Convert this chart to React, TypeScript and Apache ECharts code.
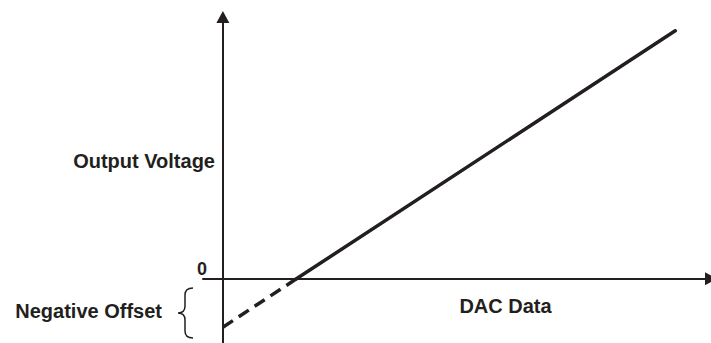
import React, { useEffect, useRef } from "react";
import * as echarts from "echarts";

// Values in chart units (x: DAC data, y: output voltage)
const negativeSegment: [number, number][] = [
  [0, -49],
  [74, 0],
];
const positiveSegment: [number, number][] = [
  [74, 0],
  [455, 251],
];
const xRange = { min: -20, max: 491 };
const yRange = { min: -65, max: 265 };
const yLabel = "Output Voltage";
const xLabel = "DAC Data";
const offsetLabel = "Negative Offset";
const zeroLabel = "0";

const INK = "#231f20";
const FONT = "'Liberation Sans', Arial, Helvetica, sans-serif";

const bracePath =
  "M 193 288 Q 185 288 185 295 L 185 306 Q 185 313 178 313 Q 185 313 185 320 L 185 331 Q 185 338 193 338";

export default function App() {
  const ref = useRef<HTMLDivElement>(null);
  useEffect(() => {
    if (!ref.current) return;
    try {
      echarts.graphic.registerShape("brace", echarts.graphic.extendPath(bracePath, {}));
    } catch (e) {}
    const chart = echarts.init(ref.current, null, { renderer: "svg" });
    const axisLine = (sym: string) => ({
      show: true,
      onZero: true,
      symbol: ["none", sym],
      symbolSize: [13, 12],
      lineStyle: { color: INK, width: 2 },
    });
    const textStyle = (extra: any) => ({
      fill: INK,
      font: `bold 20px ${FONT}`,
      ...extra,
    });
    chart.setOption({
      animation: false,
      backgroundColor: "#ffffff",
      grid: { left: 203, top: 17, width: 511, height: 330, containLabel: false },
      xAxis: {
        type: "value",
        min: xRange.min,
        max: xRange.max,
        axisLine: axisLine("triangle"),
        axisTick: { show: false },
        axisLabel: { show: false },
        splitLine: { show: false },
      },
      yAxis: {
        type: "value",
        min: yRange.min,
        max: yRange.max,
        axisLine: axisLine("triangle"),
        axisTick: { show: false },
        axisLabel: { show: false },
        splitLine: { show: false },
      },
      series: [
        {
          type: "line",
          data: negativeSegment,
          showSymbol: false,
          symbol: "none",
          lineStyle: { color: INK, width: 3.5, type: [12, 7] },
          silent: true,
        },
        {
          type: "line",
          data: positiveSegment,
          showSymbol: false,
          symbol: "none",
          lineStyle: { color: INK, width: 3.5, cap: "round" },
          silent: true,
        },
      ],
      graphic: [
        {
          type: "text",
          x: 215,
          y: 161,
          style: textStyle({ text: yLabel, textAlign: "right", textVerticalAlign: "middle" }),
        },
        {
          type: "text",
          x: 505.5,
          y: 305.5,
          style: textStyle({ text: xLabel, textAlign: "center", textVerticalAlign: "middle" }),
        },
        {
          type: "text",
          x: 162,
          y: 311,
          style: textStyle({ text: offsetLabel, textAlign: "right", textVerticalAlign: "middle" }),
        },
        {
          type: "text",
          x: 207,
          y: 268.5,
          style: textStyle({
            text: zeroLabel,
            textAlign: "right",
            textVerticalAlign: "middle",
            font: `bold 18px ${FONT}`,
          }),
        },
        {
          type: "brace",
          x: 0,
          y: 0,
          style: { fill: "none", stroke: INK, lineWidth: 1.5 },
        },
      ],
    });
    return () => chart.dispose();
  }, []);
  return (
    <div
      ref={ref}
      style={{ position: "fixed", left: 0, top: 0, width: 711, height: 343, background: "#fff" }}
    />
  );
}
